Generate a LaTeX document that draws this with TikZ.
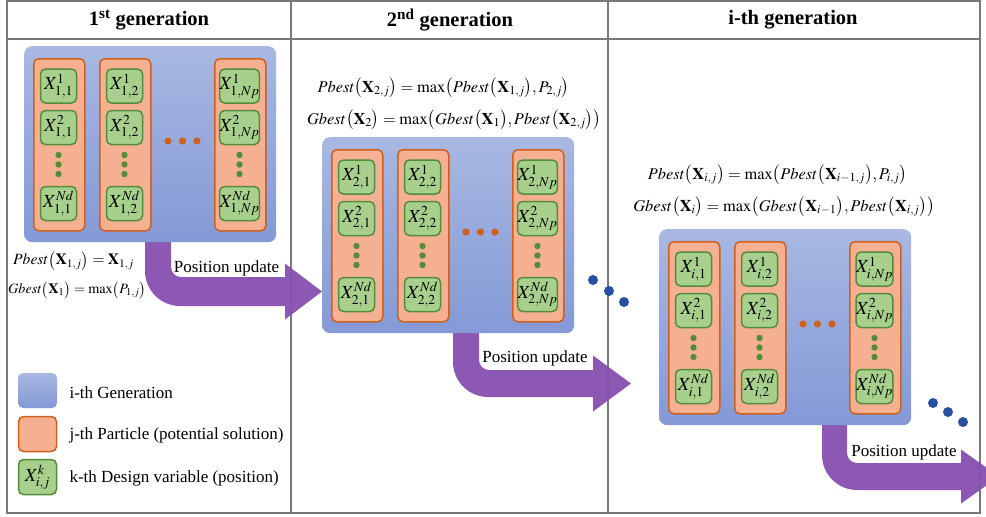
\documentclass[tikz,border=0pt]{standalone}
\usepackage{mathptmx}
\usepackage{fontspec}
\setmainfont{Liberation Serif}
\usetikzlibrary{calc}

\definecolor{blueTop}{RGB}{168,184,226}
\definecolor{blueBot}{RGB}{132,153,214}
\definecolor{partFill}{RGB}{245,176,146}
\definecolor{partLine}{RGB}{208,96,30}
\definecolor{varFill}{RGB}{168,208,141}
\definecolor{varLine}{RGB}{84,140,56}
\definecolor{arrowPurple}{RGB}{134,80,176}
\definecolor{dotBlue}{RGB}{40,80,160}
\definecolor{gridGray}{RGB}{120,120,120}

\tikzset{
  genbox/.style={minimum width=252pt, minimum height=196pt, inner sep=0pt,
    rounded corners=8pt, top color=blueTop, bottom color=blueBot},
  partbox/.style={minimum width=51pt, minimum height=172pt, inner sep=0pt,
    rounded corners=5pt, fill=partFill, draw=partLine, line width=1.5pt},
  varbox/.style={minimum width=36pt, minimum height=34pt, inner sep=0pt,
    rounded corners=5pt, fill=varFill, draw=varLine, line width=1.5pt,
    font=\fontsize{18.5}{18.5}\selectfont},
  headtext/.style={font=\fontsize{20.5}{24}\selectfont\bfseries},
  plaintext/.style={font=\fontsize{17}{20}\selectfont},
  formula/.style={font=\fontsize{16.4}{18}\selectfont, inner sep=0pt},
  grid line/.style={draw=gridGray, line width=1.1pt},
  flowarrow/.style={fill=arrowPurple, opacity=0.95},
}

% tall brackets used in the update rules
\newcommand{\lp}{\bigl(}
\newcommand{\rp}{\bigr)}

% one generation: swarm box, three particles, design variables and dots
% #1 name, #2 x, #3 y, #4 generation index
\newcommand{\genblock}[4]{%
  \begin{scope}[shift={(#2,#3)}]
    \node[genbox, anchor=north west] (#1) at (0,0) {};
    \foreach \c/\px/\j in {1/9/1, 2/75/2, 3/190/Np} {
      \node[partbox, anchor=north west] (#1p\c) at (\px,12) {};
      \node[varbox] (#1p\c-v1) at (\px+25.5,40) {$X^{1}_{#4,\j}$};
      \node[varbox] (#1p\c-v2) at (\px+25.5,81.5) {$X^{2}_{#4,\j}$};
      \node[varbox] (#1p\c-vn) at (\px+25.5,157.5) {$X^{Nd}_{#4,\j}$};
      \foreach \dy in {109,118.5,128}
        \fill[varLine] (\px+25.5,\dy) circle (3.2pt);
    }
    \foreach \dx in {144,158.5,173}
      \fill[partLine] (\dx,95) circle (3.6pt);
  \end{scope}}

% bent block arrow: #1 left x, #2 right x, #3 start y, #4 shaft top,
% #5 shaft bottom, #6 head base x, #7 tip x, #8 head half height
\newcommand{\bentarrow}[8]{%
  \fill[flowarrow]
    (#1,#3) -- (#1,#5-35)
    .. controls (#1,#5-15.7) and (#1+15.7,#5) .. (#1+35,#5)
    -- (#6,#5) -- (#6,{(#4+#5)/2+#8}) -- (#7,{(#4+#5)/2})
    -- (#6,{(#4+#5)/2-#8}) -- (#6,#4) -- (#2+10,#4)
    .. controls (#2+4.5,#4) and (#2,#4-4.5) .. (#2,#4-10)
    -- (#2,#3) -- cycle;}

\begin{document}
\begin{tikzpicture}[x=1pt, y=-1pt]
  \clip (0,0) rectangle (986,517);
  \fill[white] (0,0) rectangle (986,517);

  % table frame
  \draw[grid line] (7,1) rectangle (980,513);
  \draw[grid line] (7,39) -- (980,39);
  \draw[grid line] (291,1) -- (291,513);
  \draw[grid line] (608,1) -- (608,513);

  \node[headtext] (h1) at (149,20) {1\textsuperscript{st} generation};
  \node[headtext] (h2) at (450,20) {2\textsuperscript{nd} generation};
  \node[headtext] (h3) at (793,20) {i-th generation};

  % position update arrows
  \bentarrow{145}{171}{235}{277}{306}{285}{322}{28}
  \bentarrow{453}{479}{325}{370}{397}{593}{631}{28}
  \bentarrow{822}{847}{418}{463}{490}{961}{999}{27}

  \node[plaintext] (u1) at (226.5,268) {Position update};
  \node[plaintext] (u2) at (535,358) {Position update};
  \node[plaintext] (u3) at (904,452) {Position update};

  % generations
  \genblock{g1}{24}{46}{1}
  \genblock{g2}{322}{137}{2}
  \genblock{g3}{659}{229}{i}

  % update rules
  \node[formula, anchor=west, font=\fontsize{15.6}{18}\selectfont] (f1a) at (13,261)
    {$Pbest\lp\mathbf{X}_{1,j}\rp=\mathbf{X}_{1,j}$};
  \node[formula, anchor=west, font=\fontsize{14.2}{16}\selectfont] (f1b) at (8,290)
    {$Gbest\lp\mathbf{X}_{1}\rp=\max\lp P_{1,j}\rp$};
  \node[formula] (f2a) at (443.5,88)
    {$Pbest\lp\mathbf{X}_{2,j}\rp=\max\lp Pbest\lp\mathbf{X}_{1,j}\rp,P_{2,j}\rp$};
  \node[formula] (f2b) at (454,120)
    {$Gbest\lp\mathbf{X}_{2}\rp=\max\lp Gbest\lp\mathbf{X}_{1}\rp,Pbest\lp\mathbf{X}_{2,j}\rp\rp$};
  \node[formula] (f3a) at (777.5,175)
    {$Pbest\lp\mathbf{X}_{i,j}\rp=\max\lp Pbest\lp\mathbf{X}_{i-1,j}\rp,P_{i,j}\rp$};
  \node[formula] (f3b) at (784,207)
    {$Gbest\lp\mathbf{X}_{i}\rp=\max\lp Gbest\lp\mathbf{X}_{i-1}\rp,Pbest\lp\mathbf{X}_{i,j}\rp\rp$};

  % continuation dots
  \foreach \x/\y in {593/280, 609/291, 624/302, 933/403, 948/412, 963/422}
    \fill[dotBlue] (\x,\y) circle (5pt);

  % legend
  \node[genbox, minimum width=39pt, minimum height=35pt, rounded corners=5pt] (lg1) at (37.5,390.5) {};
  \node[partbox, minimum width=38pt, minimum height=35pt] (lg2) at (37.5,434) {};
  \node[varbox, minimum width=38pt, minimum height=35pt] (lg3) at (37.5,477) {$X^{k}_{i,j}$};
  \node[plaintext, anchor=west] (lt1) at (66,393) {i-th Generation};
  \node[plaintext, anchor=west] (lt2) at (66,435) {j-th Particle (potential solution)};
  \node[plaintext, anchor=west] (lt3) at (66,478) {k-th Design variable (position)};
\end{tikzpicture}
\end{document}
